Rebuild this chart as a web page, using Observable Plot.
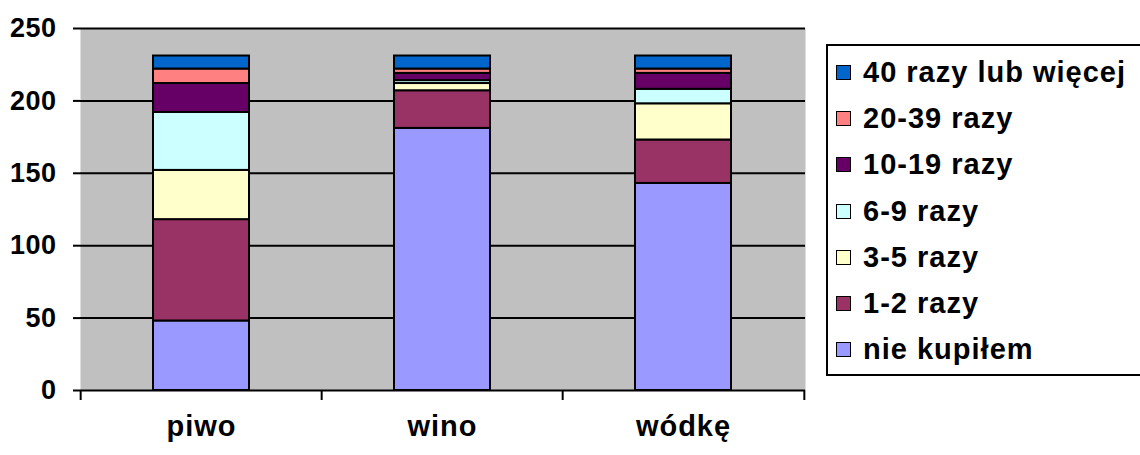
<!DOCTYPE html>
<html>
<head>
<meta charset="utf-8">
<script src="https://cdn.jsdelivr.net/npm/d3@7"></script>
<script src="https://cdn.jsdelivr.net/npm/@observablehq/plot@0.6"></script>
<style>
  html, body { margin: 0; padding: 0; background: #fff; overflow: hidden; }
  #wrap { position: relative; width: 1140px; height: 455px; overflow: hidden; font-family: "Liberation Sans", Arial, sans-serif; }
  #chart { position: absolute; left: 0; top: 0; }
  #legend { position: absolute; left: 826px; top: 44px; width: 330px; height: 325px; border: 2px solid #000; box-sizing: content-box; padding-top: 3px; background: #fff; }
  .row { height: 46.3px; display: flex; align-items: center; }
  .sw { width: 13px; height: 13px; border: 1.5px solid #000; margin-left: 8px; margin-right: 12px; flex: none; }
  .lab { font-size: 29px; font-weight: 700; letter-spacing: 1px; color: #000; white-space: nowrap; }
  g[aria-label="x-axis tick label"] text { letter-spacing: 1px; }
  g[aria-label="y-axis tick label"] text { letter-spacing: 0.5px; }
</style>
</head>
<body>
<div id="wrap">
  <div id="chart"></div>
  <div id="legend"></div>
</div>
<script>
const categories = ["piwo", "wino", "wódkę"];
const series = ["nie kupiłem", "1-2 razy", "3-5 razy", "6-9 razy", "10-19 razy", "20-39 razy", "40 razy lub więcej"];
const colors = ["#9999FF", "#993366", "#FFFFCC", "#CCFFFF", "#660066", "#FF8080", "#0066CC"];
// values per category, in series order (bottom to top)
const piwo = [48, 70, 34, 40, 20, 10, 9];
const wino = [181, 26, 5, 2, 5, 3, 9];
const wodke = [143, 30, 25, 10, 11, 3, 9];
const yTicks = [0, 50, 100, 150, 200, 250];
const gridValues = [50, 100, 150, 200, 250];

const valuesByCat = {"piwo": piwo, "wino": wino, "wódkę": wodke};
const data = [];
for (const c of categories) {
  series.forEach((s, i) => data.push({cat: c, series: s, value: valuesByCat[c][i]}));
}

const W = 810, H = 455, mL = 80, mR = 5, mT = 28, mB = 65;
const step = (W - mL - mR) / categories.length;

const chart = Plot.plot({
  width: W, height: H,
  marginLeft: mL, marginRight: mR, marginTop: mT, marginBottom: mB,
  x: {domain: categories, paddingInner: 0.6, paddingOuter: 0.3, axis: null, label: null},
  y: {domain: [0, 250], axis: null, label: null},
  color: {domain: series, range: colors},
  style: {fontFamily: "'Liberation Sans', Arial, sans-serif", fontWeight: "bold", color: "#000", background: "transparent", overflow: "visible"},
  marks: [
    Plot.frame({fill: "#C0C0C0", stroke: null}),
    Plot.ruleY(gridValues, {stroke: "#000", strokeWidth: 2}),
    Plot.barY(data, {x: "cat", y: "value", fill: "series", stroke: "#000", strokeWidth: 2, order: series}),
    Plot.ruleY([0], {stroke: "#000", strokeWidth: 2}),
    Plot.ruleX(categories, {x: d => d, dx: -step / 2, y1: 0, y2: 0, insetBottom: -10, stroke: "#000", strokeWidth: 2}),
    Plot.ruleX([categories[categories.length - 1]], {x: d => d, dx: step / 2, y1: 0, y2: 0, insetBottom: -10, stroke: "#000", strokeWidth: 2}),
    Plot.axisY({ticks: yTicks, tickSize: 7, tickPadding: 17, fontSize: 27, fontWeight: "bold", line: true, strokeWidth: 2, label: null}),
    Plot.axisX({tickSize: 0, tickPadding: 25, fontSize: 29, fontWeight: "bold", label: null})
  ]
});
document.getElementById("chart").appendChild(chart);

const legend = document.getElementById("legend");
for (let i = series.length - 1; i >= 0; i--) {
  const row = document.createElement("div");
  row.className = "row";
  const sw = document.createElement("div");
  sw.className = "sw";
  sw.style.background = colors[i];
  const lab = document.createElement("span");
  lab.className = "lab";
  lab.textContent = series[i];
  row.appendChild(sw);
  row.appendChild(lab);
  legend.appendChild(row);
}
</script>
</body>
</html>
